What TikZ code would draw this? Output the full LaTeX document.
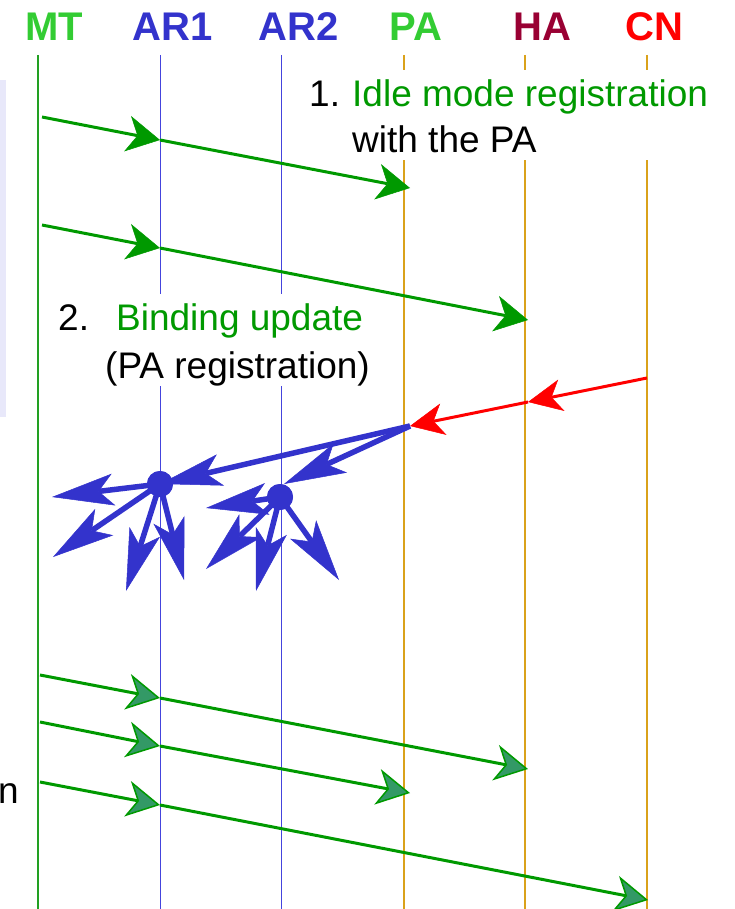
\documentclass[tikz,border=0pt]{standalone}
\usepackage{fontspec}
\setmainfont{Liberation Sans}
\usetikzlibrary{arrows.meta}

\definecolor{hdgreen}{RGB}{51,204,51}
\definecolor{arblue}{RGB}{51,51,204}
\definecolor{hared}{RGB}{153,0,51}
\definecolor{cnred}{RGB}{255,0,0}
\definecolor{msggreen}{RGB}{0,153,0}
\definecolor{mtline}{RGB}{34,160,34}
\definecolor{arline}{RGB}{68,68,221}
\definecolor{agline}{RGB}{218,162,27}
\definecolor{headfill}{RGB}{51,153,102}
\definecolor{sidebox}{RGB}{232,232,250}

\begin{document}
\begin{tikzpicture}[x=1pt,y=-1pt,
  hdr/.style={font=\fontsize{40}{48}\selectfont\bfseries, anchor=base, inner sep=0pt},
  txt/.style={font=\fontsize{37}{44}\selectfont, anchor=base west, inner sep=0pt},
  lifeline/.style={line width=1.5pt},
  gmsg/.style={draw=msggreen, line width=3pt,
    -{Stealth[length=33pt,width=36pt,inset=10pt,line width=0.5pt]}},
  gmsgfill/.style={draw=msggreen, line width=3pt,
    -{Stealth[length=33pt,width=36pt,inset=10pt,fill=headfill,line width=1.5pt]}},
  rmsg/.style={draw=cnred, line width=3pt,
    -{Stealth[length=34pt,width=32pt,inset=10pt,line width=0.5pt]}},
  bmsg/.style={draw=arblue, fill=arblue, line width=5.5pt,
    -{Stealth[length=62pt,width=32pt,inset=15pt,line width=0.5pt]}},
  bdot/.style={circle, fill=arblue, minimum size=26pt, inner sep=0pt}
]
\useasboundingbox (0,0) rectangle (734,909);

% partial side panel at the left edge
\fill[sidebox] (0,80) rectangle (6,417);

% entity headings
\node[hdr, text=hdgreen] (hMT)  at (54,41)  {MT};
\node[hdr, text=arblue]  (hAR1) at (173,41) {AR1};
\node[hdr, text=arblue]  (hAR2) at (299,41) {AR2};
\node[hdr, text=hdgreen] (hPA)  at (416,41) {PA};
\node[hdr, text=hared]   (hHA)  at (542,41) {HA};
\node[hdr, text=cnred]   (hCN)  at (654,41) {CN};

% lifelines
\coordinate (MTt) at (38,55);   \coordinate (MTb) at (38,909);
\coordinate (A1t) at (160,55);  \coordinate (A1b) at (160,909);
\coordinate (A2t) at (281,55);  \coordinate (A2b) at (281,909);
\coordinate (PAt) at (404,55);  \coordinate (PAb) at (404,909);
\coordinate (HAt) at (525,55);  \coordinate (HAb) at (525,909);
\coordinate (CNt) at (647,55);  \coordinate (CNb) at (647,909);
\draw[lifeline, mtline] (MTt) -- (MTb);
\draw[line width=1pt, arline] (A1t) -- (A1b);
\draw[line width=1pt, arline] (A2t) -- (A2b);
\draw[lifeline, agline] (PAt) -- (PAb);
\draw[lifeline, agline] (HAt) -- (HAb);
\draw[lifeline, agline] (CNt) -- (CNb);

% text panels hide the lifelines behind them
\fill[white] (300,70) rectangle (715,160);
\fill[white] (50,294) rectangle (376,386);

\node[txt] (n1)  at (309,107) {1.};
\node[txt, text=msggreen] (l1a) at (352,107) {Idle mode registration};
\node[txt] (l1b) at (352,153) {with the PA};

\node[txt] (n2)  at (58,330) {2.};
\node[txt, text=msggreen] (l2a) at (116,330) {Binding update};
\node[txt] (l2b) at (105,378) {(PA registration)};

% clipped label at the left edge
\node[font=\fontsize{37}{44}\selectfont, anchor=base east, inner sep=0pt] (ncut) at (19,803) {n};

% 1. idle mode registration with the PA
\coordinate (s1) at (42,117); \coordinate (m1) at (160,140); \coordinate (e1) at (410,188);
\draw[gmsg] (s1) -- (m1);
\draw[gmsg] (m1) -- (e1);

% 2. binding update to the HA
\coordinate (s2) at (42,225); \coordinate (m2) at (160,248); \coordinate (e2) at (528,320);
\draw[gmsg] (s2) -- (m2);
\draw[gmsg] (m2) -- (e2);

% CN traffic towards the PA
\coordinate (rs) at (647,378); \coordinate (rm) at (528,402); \coordinate (P) at (410,426);
\draw[rmsg] (rs) -- (rm);
\draw[rmsg] (rm) -- (P);

% paging fan-out from the PA through the access routers
\node[bdot] (d1) at (160,484) {};
\node[bdot] (d2) at (280,497) {};
\coordinate (d1in) at (160,484);
\coordinate (d2in) at (284,484);
\draw[bmsg] (P) -- (d1in);
\draw[bmsg] (P) -- (d2in);

\coordinate (t11) at (52,497);  \coordinate (t12) at (53,557);
\coordinate (t13) at (126,591); \coordinate (t14) at (184,580);
\coordinate (t21) at (206,508); \coordinate (t22) at (206,569);
\coordinate (t23) at (256,591); \coordinate (t24) at (339,580);
\foreach \t in {t11,t12,t13,t14} \draw[bmsg] (d1.center) -- (\t);
\foreach \t in {t21,t22,t23,t24} \draw[bmsg] (d2.center) -- (\t);
\node[bdot] at (d1) {};
\node[bdot] at (d2) {};

% messages after the MT becomes active
\coordinate (s3) at (40,675); \coordinate (m3) at (160,698); \coordinate (e3) at (528,769);
\draw[gmsgfill] (s3) -- (m3);
\draw[gmsgfill] (m3) -- (e3);

\coordinate (s4) at (40,722); \coordinate (m4) at (160,746); \coordinate (e4) at (410,793);
\draw[gmsgfill] (s4) -- (m4);
\draw[gmsgfill] (m4) -- (e4);

\coordinate (s5) at (40,782); \coordinate (m5) at (160,805); \coordinate (e5) at (648,900);
\draw[gmsgfill] (s5) -- (m5);
\draw[gmsgfill] (m5) -- (e5);
\end{tikzpicture}
\end{document}
